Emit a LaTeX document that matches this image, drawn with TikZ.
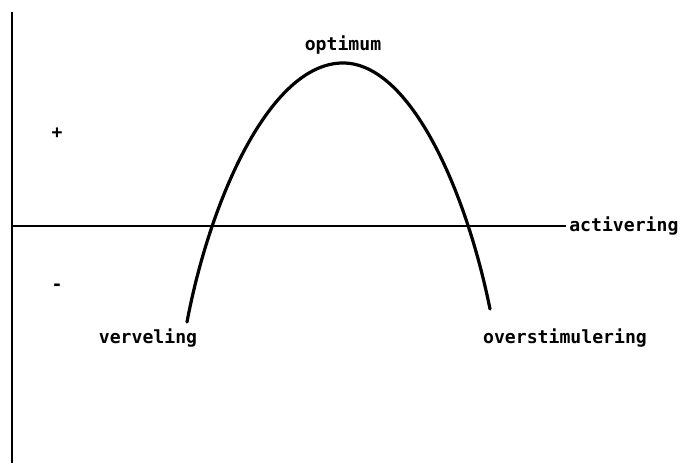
\documentclass[tikz,border=0pt]{standalone}
\usepackage{fontspec}
\newfontfamily\labelfont{DejaVu Sans Mono}
\begin{document}
\begin{tikzpicture}[x=0.75pt,y=0.75pt,yscale=-1,xscale=1,
  lbl/.style={inner sep=0.75pt,font=\labelfont\bfseries\fontsize{13.6}{16}\selectfont}]
\useasboundingbox (0,0) rectangle (683,468);
% axes
\coordinate (ytop) at (12,12);
\coordinate (ybot) at (12,463);
\coordinate (xleft) at (12,226);
\coordinate (xright) at (566,226);
\draw [line width=1.4] (ytop) -- (ybot);
\draw [line width=0.9] (xleft) -- (xright);
% curve
\coordinate (peak) at (343,63);
\draw [line width=2.4,line cap=round] (187,322) .. controls (210,200) and (270,63) .. (peak) .. controls (410,63) and (466,190) .. (490,309);

% Text Node
\node [lbl] (plus) at (57,133) {+};
% Text Node
\node [lbl] (minus) at (57,287) {-};
% Text Node
\node [lbl] (optimum) at (343,45) {optimum};
% Text Node
\node [lbl] (verveling) at (148,338) {verveling};
% Text Node
\node [lbl,anchor=west] (activering) at (568,226) {activering};
% Text Node
\node [lbl] (overstim) at (565,338) {overstimulering};
\end{tikzpicture}
\end{document}
